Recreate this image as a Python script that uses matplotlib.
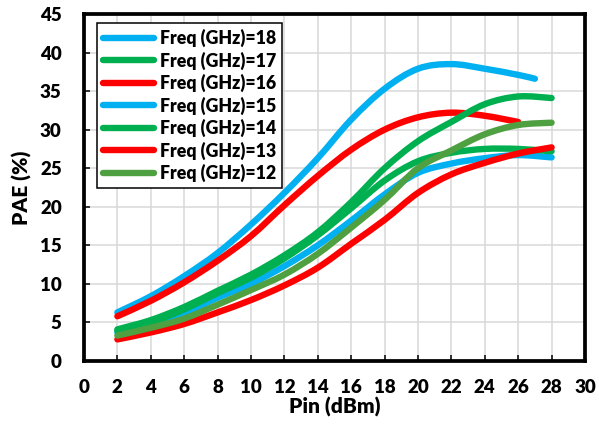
'''
PAE versus input power for several frequencies
'''
import matplotlib
matplotlib.use('Agg')
from matplotlib import pyplot as plt
from matplotlib.path import Path
from matplotlib.patches import PathPatch
from matplotlib.lines import Line2D

# input power sweep (dBm)
pin = [2, 4, 6, 8, 10, 12, 14, 16, 18, 20, 22, 24, 26, 28]
pin_18 = [2, 4, 6, 8, 10, 12, 14, 16, 18, 20, 22, 24, 26, 27]
pin_16 = [2, 4, 6, 8, 10, 12, 14, 16, 18, 20, 22, 24, 26]

# PAE (%) per frequency
pae_18 = [6.3, 8.4, 11.0, 14.0, 17.7, 21.8, 26.3, 31.3, 35.3, 37.9, 38.5, 37.9, 37.1, 36.6]
pae_17 = [4.1, 5.3, 7.0, 9.1, 11.2, 13.7, 16.7, 20.6, 25.0, 28.5, 31.0, 33.3, 34.3, 34.1]
pae_16 = [5.8, 7.8, 10.2, 13.0, 16.2, 20.2, 24.0, 27.4, 30.0, 31.6, 32.2, 31.8, 31.0]
pae_15 = [3.7, 4.8, 6.2, 8.2, 10.0, 12.3, 15.0, 18.2, 21.6, 24.4, 25.6, 26.3, 26.7, 26.4]
pae_14 = [3.9, 5.0, 6.7, 8.8, 10.8, 13.3, 16.3, 19.8, 23.4, 25.9, 27.0, 27.5, 27.5, 27.2]
pae_13 = [2.8, 3.7, 4.8, 6.3, 7.9, 9.8, 12.1, 15.2, 18.3, 21.8, 24.2, 25.7, 26.9, 27.7]
pae_12 = [3.3, 4.3, 5.5, 7.3, 9.2, 11.2, 13.9, 17.3, 20.9, 25.0, 27.3, 29.4, 30.6, 30.9]

freqs = [18, 17, 16, 15, 14, 13, 12]
xs = [pin_18, pin, pin_16, pin, pin, pin, pin]
ys = [pae_18, pae_17, pae_16, pae_15, pae_14, pae_13, pae_12]

BLUE = '#00B0F0'
GREEN = '#00B050'
RED = '#FF0000'
OLIVE = '#4EA040'
colors = [BLUE, GREEN, RED, BLUE, GREEN, RED, OLIVE]
zorders = [3, 5, 4, 6, 7, 8, 9]
LW = 4.6


def smooth_path(x, y):
    '''
    Excel style smoothed line: cubic bezier through every data point

    Arguments
        x, y : the data points

    Returns
        matplotlib Path
    '''
    n = len(x)
    verts = [(x[0], y[0])]
    codes = [Path.MOVETO]
    for i in range(n - 1):
        i0 = max(i - 1, 0)
        i3 = min(i + 2, n - 1)
        c1 = (x[i] + (x[i + 1] - x[i0]) / 6.0, y[i] + (y[i + 1] - y[i0]) / 6.0)
        c2 = (x[i + 1] - (x[i3] - x[i]) / 6.0, y[i + 1] - (y[i3] - y[i]) / 6.0)
        verts += [c1, c2, (x[i + 1], y[i + 1])]
        codes += [Path.CURVE4] * 3
    return Path(verts, codes)


plt.rcParams['font.family'] = ['Lato', 'DejaVu Sans']
plt.rcParams['font.weight'] = 'heavy'

fig = plt.figure(figsize=(5.99, 4.30), dpi=100)
ax = fig.add_axes([0.1402, 0.1605, 0.8364, 0.807])

handles = []
for f, x, y, c, z in zip(freqs, xs, ys, colors, zorders):
    ax.add_patch(PathPatch(smooth_path(x, y), fill=False, edgecolor=c,
                           lw=LW, capstyle='round', joinstyle='round',
                           zorder=z))
    handles.append(Line2D([], [], color=c, lw=LW, solid_capstyle='round',
                          label='Freq (GHz)=%d' % f))

ax.set_xlim(0, 30)
ax.set_ylim(0, 45)
ax.set_xticks(range(0, 31, 2))
ax.set_yticks(range(0, 46, 5))
ax.grid(True, color='#D9D9D9', lw=1.1, zorder=0)
ax.set_axisbelow(True)

ax.tick_params(axis='x', direction='in', length=4, width=1.1, pad=13,
               labelsize=13.5)
ax.tick_params(axis='y', direction='in', length=4, width=1.1, pad=16,
               labelsize=13.5)
for lab in ax.get_xticklabels() + ax.get_yticklabels():
    lab.set_fontweight('heavy')

for sp in ax.spines.values():
    sp.set_linewidth(2.7)
    sp.set_color('black')

ax.set_xlabel('Pin (dBm)', fontsize=15, fontweight='heavy', labelpad=1)
ax.set_ylabel('PAE (%)', fontsize=15, fontweight='heavy', labelpad=6)

leg = ax.legend(handles=handles, loc='upper left',
                bbox_to_anchor=(0.026, 0.974), borderaxespad=0,
                fontsize=12.7, handlelength=2.9, handletextpad=0.3,
                labelspacing=0.24, borderpad=0.35, fancybox=False,
                framealpha=1, edgecolor='black')
leg.get_frame().set_linewidth(1.1)
leg.set_zorder(20)
for t in leg.get_texts():
    t.set_fontweight('heavy')

fig.savefig('out.png', dpi=100)
